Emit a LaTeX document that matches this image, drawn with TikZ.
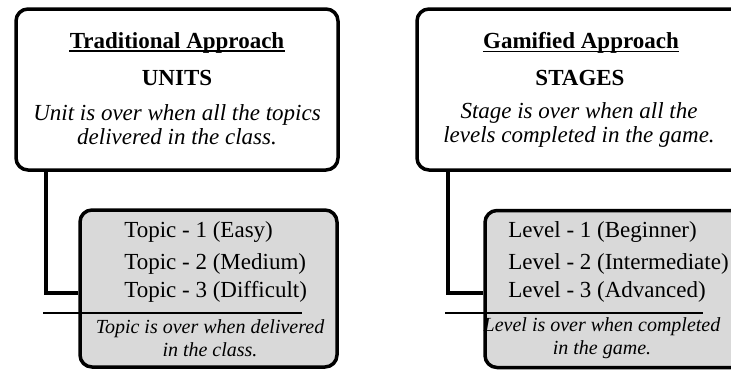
\documentclass[tikz,border=0pt]{standalone}
\usepackage{fontspec}
\setmainfont{Liberation Serif}
\usetikzlibrary{positioning}

\tikzset{every picture/.style={line width=0.75pt}}
\definecolor{boxgrey}{RGB}{217,217,217}

\begin{document}
\begin{tikzpicture}[x=1pt,y=1pt,yscale=-1,
	approach/.style={draw, line width=3.5pt, rounded corners=12pt, fill=white, minimum height=161pt, inner sep=0pt},
	detail/.style={draw, line width=3.5pt, rounded corners=12pt, fill=boxgrey, minimum height=157pt, inner sep=0pt},
	link/.style={line width=4pt},
	rule/.style={line width=1.2pt},
	head/.style={font=\fontsize{23}{25}\selectfont\bfseries, inner sep=0pt},
	note/.style={font=\fontsize{23}{24}\selectfont\itshape, align=center},
	item/.style={font=\fontsize{23}{25}\selectfont, anchor=west, inner sep=0pt},
	small/.style={font=\fontsize{20}{23}\selectfont\itshape, align=center}]
	\useasboundingbox (0,0) rectangle (731,372);
	\clip (0,0) rectangle (731,372);

	% boxes
	\node[approach, minimum width=322pt] (trad) at (177,89.5) {};
	\node[detail, minimum width=257pt] (topics) at (208.5,288.5) {};
	\node[approach, minimum width=336pt] (gami) at (585,89.5) {};
	\node[detail, minimum width=260pt] (levels) at (615,289) {};

	% connectors (yscale=-1, so a positive yshift goes down)
	\draw[link] ([xshift=32pt]trad.south west) |- ([yshift=4pt]topics.west);
	\draw[link] ([xshift=33pt]gami.south west) |- ([yshift=4pt]levels.west);

	% separators
	\draw[rule] (43,313) -- (302,313);
	\draw[rule] (445,313) -- (703,313);

	% Traditional side
	\node[head] (trad-title) at (177,43) {Traditional Approach};
	\draw[rule] ([yshift=2.5pt]trad-title.base west) -- ([yshift=2.5pt]trad-title.base east);
	\node[head] (trad-name) at (177,78) {UNITS};
	\node[note] (trad-text) at (177,125) {Unit is over when all the topics\\delivered in the class.};
	\node[item] (topic1) at (124,232) {Topic - 1 (Easy)};
	\node[item] (topic2) at (124,264) {Topic - 2 (Medium)};
	\node[item] (topic3) at (124,292) {Topic - 3 (Difficult)};
	\node[small] (topic-note) at (210,338.5) {Topic is over when delivered\\in the class.};

	% Gamified side
	\node[head] (gami-title) at (581,43) {Gamified Approach};
	\draw[rule] ([yshift=2.5pt]gami-title.base west) -- ([yshift=2.5pt]gami-title.base east);
	\node[head] (gami-name) at (580,78) {STAGES};
	\node[note] (gami-text) at (579,125) {Stage is over when all the\\levels completed in the game.};
	\node[item] (level1) at (508,232) {Level - 1 (Beginner)};
	\node[item] (level2) at (508,264) {Level - 2 (Intermediate)};
	\node[item] (level3) at (508,292) {Level - 3 (Advanced)};
	\node[small] (level-note) at (602,338.5) {Level is over when completed\\in the game.};
\end{tikzpicture}
\end{document}
